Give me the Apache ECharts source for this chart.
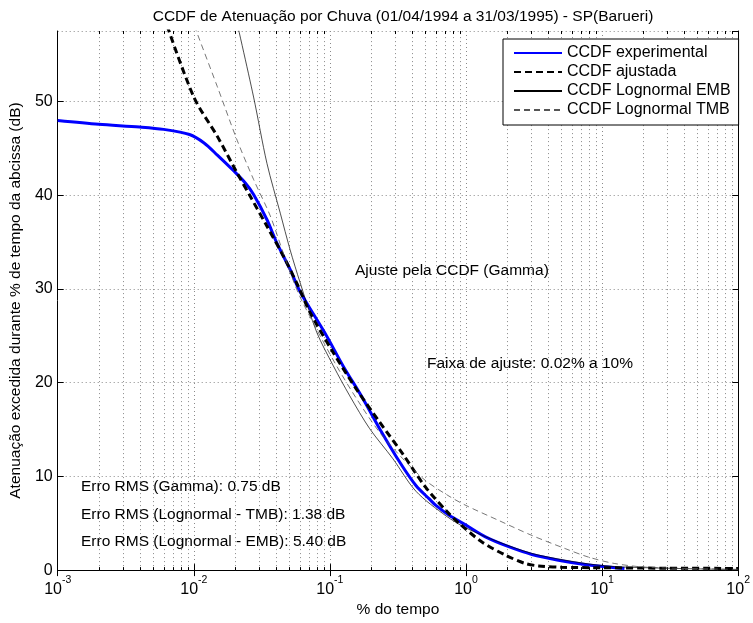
<!DOCTYPE html>
<html>
<head>
    <meta charset="utf-8">
    <title>CCDF de Atenuação por Chuva - SP(Barueri)</title>
    <script src="https://cdn.jsdelivr.net/npm/echarts@6/dist/echarts.min.js"></script>
    <style>html,body{margin:0;padding:0;background:#fff;}</style>
</head>
<body>
    <div id="main" style="width:753px;height:623px;"></div>
    <script type="text/javascript">
var FONT = '"Liberation Sans", Arial, sans-serif';
var FS = 15.5;

// CCDF experimental (% do tempo, dB)
var expTime = [0.001, 0.002, 0.004, 0.006, 0.0093, 0.0119, 0.0149, 0.0197, 0.024, 0.0275, 0.0345, 0.0408, 0.051, 0.06, 0.0946, 0.125, 0.175, 0.232, 0.33, 0.43, 0.537, 0.601, 0.752, 1.0, 1.39, 2.06, 3.05, 4.77, 7.48, 10.5, 14.6];
var expAtt  = [48.0, 47.6, 47.3, 47.05, 46.5, 45.6, 44.3, 42.6, 41.3, 40.1, 37.4, 34.9, 32.1, 29.8, 25.0, 21.8, 18.3, 15.1, 11.4, 9.0, 7.6, 6.9, 5.85, 4.8, 3.55, 2.5, 1.67, 1.06, 0.6, 0.36, 0.18];

// CCDF ajustada (Gamma)
var gamTime = [0.006, 0.01, 0.0149, 0.0208, 0.026, 0.0345, 0.0456, 0.0585, 0.0715, 0.106, 0.157, 0.232, 0.343, 0.508, 0.752, 0.889, 1.31, 1.95, 2.73, 3.41, 5, 10, 30, 100];
var gamAtt  = [59.2, 50.5, 46.3, 42.4, 39.9, 36.7, 33.5, 30.3, 27.5, 23.2, 19.3, 15.8, 12.4, 8.8, 6.0, 5.0, 3.0, 1.6, 0.7, 0.45, 0.3, 0.25, 0.2, 0.18];

// CCDF Lognormal EMB
var embTime = [0.02, 0.0275, 0.0345, 0.0432, 0.051, 0.0604, 0.08, 0.106, 0.14, 0.196, 0.29, 0.43, 0.711, 1.0, 1.74, 3.05, 5.35, 9.35, 16.3, 100];
var embAtt  = [59.5, 50.5, 43.4, 38.1, 34.2, 30.7, 25.4, 21.8, 18.6, 15.1, 11.9, 8.4, 5.8, 4.5, 3.0, 1.78, 1.06, 0.53, 0.3, 0.05];

// CCDF Lognormal TMB
var tmbTime = [0.0095, 0.0149, 0.0208, 0.0275, 0.0365, 0.0456, 0.0585, 0.08, 0.112, 0.157, 0.232, 0.343, 0.5, 0.75, 1.0, 1.74, 3.05, 5.35, 7.9, 12.4, 21.7, 100];
var tmbAtt  = [59.1, 51.6, 45.9, 41.7, 37.8, 33.8, 29.6, 25.7, 21.8, 18.3, 14.7, 11.9, 9.6, 7.9, 6.9, 5.3, 3.7, 2.3, 1.4, 0.7, 0.3, 0.08];

// grade logaritmica secundaria
var decades = [0.001, 0.01, 0.1, 1, 10];
var minorFactors = [2, 3, 4, 5, 6, 7, 8, 9];

var seriesNames = ['CCDF experimental', 'CCDF ajustada', 'CCDF Lognormal EMB', 'CCDF Lognormal TMB'];
var notes = [
    ['Ajuste pela CCDF (Gamma)', 355, 272],
    ['Faixa de ajuste: 0.02% a 10%', 427, 365],
    ['Erro RMS (Gamma): 0.75 dB', 81, 488],
    ['Erro RMS (Lognormal - TMB): 1.38 dB', 81, 516],
    ['Erro RMS (Lognormal - EMB): 5.40 dB', 81, 543]
];

var yMin = 0, yMax = 57.55;

function pairs(xs, ys) {
    var out = [];
    for (var i = 0; i < xs.length; i++) out.push([xs[i], ys[i]]);
    return out;
}

var minorData = [];
for (var d = 0; d < decades.length; d++) {
    for (var m = 0; m < minorFactors.length; m++) {
        minorData.push([decades[d] * minorFactors[m], 0]);
    }
}

var myChart = echarts.init(document.getElementById('main'));

var gridLine = { show: true, lineStyle: { color: '#8a8a8a', width: 1, type: [1, 3] } };

var option = {
    backgroundColor: '#fff',
    animation: false,
    textStyle: { fontFamily: FONT },
    title: {
        text: 'CCDF de Atenuação por Chuva (01/04/1994 a 31/03/1995) - SP(Barueri)',
        left: 398, top: 4, textAlign: 'center',
        textStyle: { fontFamily: FONT, fontSize: FS, fontWeight: 'normal', color: '#000' }
    },
    grid: { left: 56, right: 12, top: 31, bottom: 51 },
    legend: {
        data: seriesNames,
        orient: 'vertical',
        left: 503, top: 39,
        padding: [6, 8, 7, 10],
        itemGap: 3, itemWidth: 48, itemHeight: 14,
        itemStyle: { opacity: 0 },
        backgroundColor: '#fff', borderColor: '#000', borderWidth: 1, borderRadius: 0,
        textStyle: { fontFamily: FONT, fontSize: 16, color: '#000' }
    },
    xAxis: [{
        type: 'log', logBase: 10, min: 0.001, max: 100,
        position: 'bottom',
        name: '% do tempo', nameLocation: 'middle', nameGap: 30,
        nameTextStyle: { fontFamily: FONT, fontSize: FS, color: '#000' },
        axisLine: { show: true, lineStyle: { color: '#000' } },
        axisTick: { show: true, inside: true, length: 6, lineStyle: { color: '#000' } },
        splitLine: gridLine,
        axisLabel: {
            margin: 5,
            formatter: function (v) {
                var e = Math.round(Math.log(v) / Math.LN10);
                return '{b|10}{s|' + e + '}';
            },
            rich: {
                b: { fontFamily: FONT, fontSize: 16, color: '#000', lineHeight: 22, verticalAlign: 'bottom' },
                s: { fontFamily: FONT, fontSize: 10.5, color: '#000', lineHeight: 22, verticalAlign: 'top' }
            }
        }
    }, {
        type: 'log', logBase: 10, min: 0.001, max: 100,
        position: 'top',
        axisLine: { show: true, lineStyle: { color: '#000' } },
        axisTick: { show: true, inside: true, length: 6, lineStyle: { color: '#000' } },
        axisLabel: { show: false },
        splitLine: { show: false }
    }],
    yAxis: [{
        type: 'value', min: yMin, max: yMax, interval: 10,
        position: 'left',
        name: 'Atenuação excedida durante % de tempo da abcissa (dB)',
        nameLocation: 'middle', nameGap: 26,
        nameTextStyle: { fontFamily: FONT, fontSize: FS, color: '#000' },
        axisLine: { show: true, lineStyle: { color: '#000' } },
        axisTick: { show: true, inside: true, length: 6, lineStyle: { color: '#000' } },
        splitLine: gridLine,
        axisLabel: {
            margin: 5, showMaxLabel: false,
            fontFamily: FONT, fontSize: 16, color: '#000',
            formatter: function (v) { return v % 10 === 0 ? String(v) : ''; }
        }
    }, {
        type: 'value', min: yMin, max: yMax, interval: 10,
        position: 'right',
        axisLine: { show: true, lineStyle: { color: '#000' } },
        axisTick: { show: true, inside: true, length: 6, lineStyle: { color: '#000' } },
        axisLabel: { show: false },
        splitLine: { show: false }
    }],
    graphic: notes.map(function (n) {
        return {
            type: 'text', left: n[1], top: n[2] - 9, z: 50,
            style: { text: n[0], fontFamily: FONT, fontSize: FS, fill: '#000' }
        };
    }),
    series: [{
        name: 'minor',
        type: 'custom',
        silent: true,
        z: 1,
        data: minorData,
        encode: { x: 0, y: 1 },
        renderItem: function (params, api) {
            var b = api.coord([api.value(0), yMin]);
            var t = api.coord([api.value(0), yMax]);
            var x = Math.round(b[0]) + 0.5;
            return {
                type: 'group',
                children: [
                    { type: 'line', shape: { x1: x, y1: b[1], x2: x, y2: t[1] }, style: { stroke: '#8a8a8a', lineWidth: 1, lineDash: [1, 3] } },
                    { type: 'line', shape: { x1: x, y1: b[1], x2: x, y2: b[1] - 3 }, style: { stroke: '#000', lineWidth: 1 } },
                    { type: 'line', shape: { x1: x, y1: t[1], x2: x, y2: t[1] + 3 }, style: { stroke: '#000', lineWidth: 1 } }
                ]
            };
        }
    }, {
        name: seriesNames[0], type: 'line', symbol: 'none', smooth: 0.3, z: 3,
        data: pairs(expTime, expAtt),
        lineStyle: { color: '#0000ff', width: 3 }, itemStyle: { color: '#0000ff' }
    }, {
        name: seriesNames[1], type: 'line', symbol: 'none', smooth: 0.3, z: 4,
        data: pairs(gamTime, gamAtt),
        lineStyle: { color: '#000', width: 3, type: [7, 4] }, itemStyle: { color: '#000' }
    }, {
        name: seriesNames[2], type: 'line', symbol: 'none', smooth: 0.3, z: 4,
        data: pairs(embTime, embAtt),
        lineStyle: { color: '#000', width: 0.7 }, itemStyle: { color: '#000' }
    }, {
        name: seriesNames[3], type: 'line', symbol: 'none', smooth: 0.3, z: 4,
        data: pairs(tmbTime, tmbAtt),
        lineStyle: { color: '#555', width: 0.8, type: [6, 4] }, itemStyle: { color: '#555' }
    }]
};

myChart.setOption(option);
    </script>
</body>
</html>
